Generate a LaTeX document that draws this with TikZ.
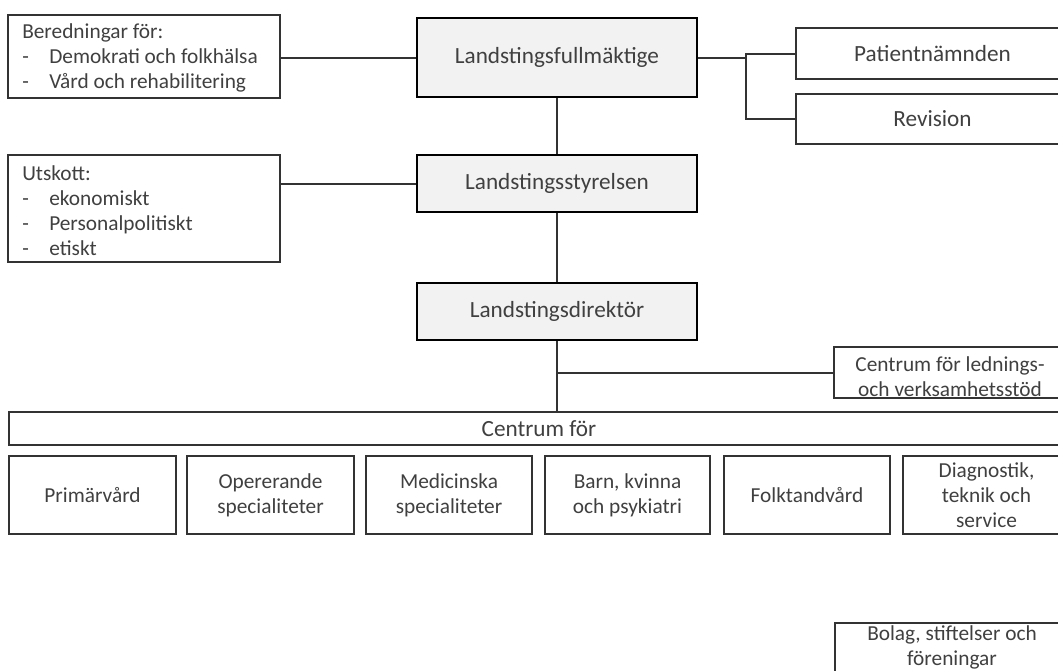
\documentclass[tikz,border=0pt]{standalone}
\usepackage{fontspec}
\setmainfont{Carlito}
\usetikzlibrary{fit,shadows}
\definecolor{txtgray}{HTML}{404040}
\definecolor{linegray}{HTML}{333333}
\definecolor{mainfill}{HTML}{F2F2F2}
\begin{document}
\begin{tikzpicture}[x=0.75pt,y=-0.75pt,
  every node/.style={font=\fontsize{16}{18.75}\selectfont, text=txtgray},
  mainbox/.style={draw=black, line width=2.2pt, fill=mainfill, inner sep=0pt,
    drop shadow={opacity=0.25, shadow xshift=1pt, shadow yshift=-1pt}},
  plainbox/.style={draw=linegray, line width=1.3pt, fill=white, inner sep=0pt,
    drop shadow={opacity=0.2, shadow xshift=1pt, shadow yshift=-1pt}},
  lbl/.style={inner sep=0pt, align=center},
  biglbl/.style={inner sep=0pt, align=center, font=\fontsize{17.4}{20}\selectfont},
  txtline/.style={anchor=base west, inner sep=0pt},
  conn/.style={draw=linegray, line width=1.5pt}]
\useasboundingbox (0,0) rectangle (1058,671);
\clip (0,0) rectangle (1058,671);
\coordinate (j) at (746,0);
% left boxes
\node[plainbox, fit={(8,15)(280,98)}] (ber) {};
\node[txtline] (b1) at (22,38) {Beredningar för:};
\node[txtline] (b2d) at (22,63) {-};
\node[txtline] (b2) at (49,63) {Demokrati och folkhälsa};
\node[txtline] (b3d) at (22,88) {-};
\node[txtline] (b3) at (49,88) {Vård och rehabilitering};

\node[plainbox, fit={(8,155)(280,262)}] (uts) {};
\node[txtline] (u1) at (22,180) {Utskott:};
\node[txtline] (u2d) at (22,205) {-};
\node[txtline] (u2) at (49,205) {ekonomiskt};
\node[txtline] (u3d) at (22,230) {-};
\node[txtline] (u3) at (49,230) {Personalpolitiskt};
\node[txtline] (u4d) at (22,255) {-};
\node[txtline] (u4) at (49,255) {etiskt};

% main column
\node[mainbox, fit={(417,18)(697,97)}] (full) {};
\node[biglbl] (fullt) at (full.center) {Landstingsfullmäktige};
\node[mainbox, fit={(417,155)(697,212)}] (styr) {};
\node[biglbl] (styrt) at (styr.center) {Landstingsstyrelsen};
\node[mainbox, fit={(417,283)(697,340)}] (dir) {};
\node[biglbl] (dirt) at (dir.center) {Landstingsdirektör};

% right boxes
\node[plainbox, fit={(796,28)(1069,79)}] (pat) {};
\node[biglbl] (patt) at (pat.center) {Patientnämnden};
\node[plainbox, fit={(796,94)(1069,144)}] (rev) {};
\node[biglbl] (revt) at (rev.center) {Revision};

\node[plainbox, fit={(834,347)(1066,398)}] (led) {};
\node[lbl] (ledt) at (950,377) {Centrum för lednings-\\och verksamhetsstöd};

\node[plainbox, fit={(9,412)(1069,445)}] (cen) {};
\node[biglbl] (cent) at (cen.center) {Centrum för};

\node[plainbox, fit={(9,456)(176,534)}] (c1) {};
\node[lbl] (c1t) at (c1.center) {Primärvård};
\node[plainbox, fit={(187,456)(354,534)}] (c2) {};
\node[lbl] (c2t) at (c2.center) {Opererande\\specialiteter};
\node[plainbox, fit={(366,456)(532,534)}] (c3) {};
\node[lbl] (c3t) at (c3.center) {Medicinska\\specialiteter};
\node[plainbox, fit={(545,456)(710,534)}] (c4) {};
\node[lbl] (c4t) at (c4.center) {Barn, kvinna\\och psykiatri};
\node[plainbox, fit={(724,456)(890,534)}] (c5) {};
\node[lbl] (c5t) at (c5.center) {Folktandvård};
\node[plainbox, fit={(903,456)(1070,534)}] (c6) {};
\node[lbl] (c6t) at (c6.center) {Diagnostik,\\teknik och\\service};

\node[plainbox, fit={(835,623)(1070,680)}] (bol) {};
\node[lbl] (bolt) at (952,647) {Bolag, stiftelser och\\föreningar};

% connectors
\draw[conn] (ber.east |- full.west) -- (full.west);
\draw[conn] (uts.east |- styr.west) -- (styr.west);
\draw[conn] (full.south) -- (styr.north);
\draw[conn] (styr.south) -- (dir.north);
\draw[conn] (dir.south) -- (dir.south |- cen.north);
\draw[conn] (full.east) -- (full.east -| j);
\draw[conn] (pat.west) -- (pat.west -| j) -- (rev.west -| j) -- (rev.west);
\draw[conn] (led.west) -- (led.west -| dir.south);
\end{tikzpicture}
\end{document}
